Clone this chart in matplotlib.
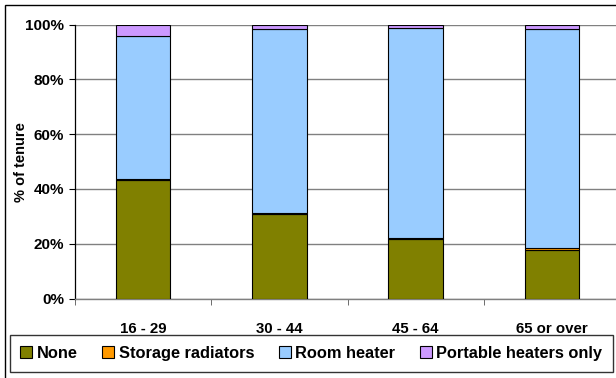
import numpy as np
import matplotlib.pyplot as plt
from matplotlib.patches import Rectangle
from matplotlib.lines import Line2D

plt.rcParams['font.family'] = ['Liberation Sans', 'DejaVu Sans']
plt.rcParams['font.weight'] = 'bold'

#%% Data
categories = ['16 - 29', '30 - 44', '45 - 64', '65 or over']
series_names = ['None', 'Storage radiators', 'Room heater', 'Portable heaters only']
none_vals = [43.3, 30.9, 21.9, 17.7]
storage_vals = [0.4, 0.3, 0.3, 0.7]
room_vals = [52.2, 67.2, 76.7, 80.0]
portable_vals = [4.1, 1.6, 1.1, 1.6]
colors = ['#808000', '#FF9900', '#99CCFF', '#CC99FF']
yticks = [0, 20, 40, 60, 80, 100]

#%% Plot
W, H = 616, 378
fig = plt.figure(figsize=(W / 100, H / 100), dpi=100)
ax = fig.add_axes([75 / W, 1 - 298.5 / H, 545 / W, (298.5 - 24.7) / H])

x = np.arange(len(categories))
bottom = np.zeros(len(categories))
for vals, name, c in zip([none_vals, storage_vals, room_vals, portable_vals], series_names, colors):
    ax.bar(x, vals, width=0.4, bottom=bottom, color=c, edgecolor='black', linewidth=0.8, label=name, zorder=3)
    bottom = bottom + np.array(vals)

ax.set_xlim(-0.5, len(categories) - 0.5)
ax.set_ylim(0, 100)
ax.set_yticks(yticks)
ax.set_yticklabels(['{}%'.format(v) for v in yticks], fontsize=11, fontweight='bold')
ax.set_xticks(x)
ax.set_xticklabels(categories, fontsize=10.8, fontweight='bold')
ax.set_xticks(np.arange(len(categories) + 1) - 0.5, minor=True)
ax.tick_params(axis='x', which='major', length=0, pad=17)
ax.tick_params(axis='x', which='minor', length=4, color='#555555', direction='out')
ax.tick_params(axis='y', length=4, color='black', direction='out', pad=4)
ax.grid(axis='y', color='#808080', linewidth=1, zorder=0)
ax.set_axisbelow(True)
for s in ['top', 'right']:
    ax.spines[s].set_visible(False)
ax.spines['left'].set_color('black')
ax.spines['left'].set_linewidth(0.9)
ax.spines['bottom'].set_color('#808080')
ax.spines['bottom'].set_linewidth(1)
ax.set_ylabel('% of tenure', fontsize=10.5, fontweight='bold')
ax.yaxis.set_label_coords(-(75 - 21) / 545, 0.5)
ax.yaxis.label.set_verticalalignment('center')

# outer chart border
fig.patches.append(Rectangle((5 / W, -0.1), 1.2, 1 - 5 / H + 0.1, transform=fig.transFigure,
                             fill=False, edgecolor='black', linewidth=1))

# legend
handles = [Line2D([], [], marker='s', linestyle='none', markersize=8, markerfacecolor=c,
                  markeredgecolor='black', markeredgewidth=0.8) for c in colors]
leg = fig.legend(handles, series_names, loc='center left', bbox_to_anchor=(10 / W, 1 - 353.5 / H),
                 ncol=4, frameon=True, fancybox=False, edgecolor='black',
                 handletextpad=0.3, columnspacing=1.5, borderpad=0.65, handlelength=0.7,
                 borderaxespad=0, prop={'weight': 'bold', 'size': 11.8})
leg.get_frame().set_linewidth(1)

fig.savefig('out.png', dpi=100)
